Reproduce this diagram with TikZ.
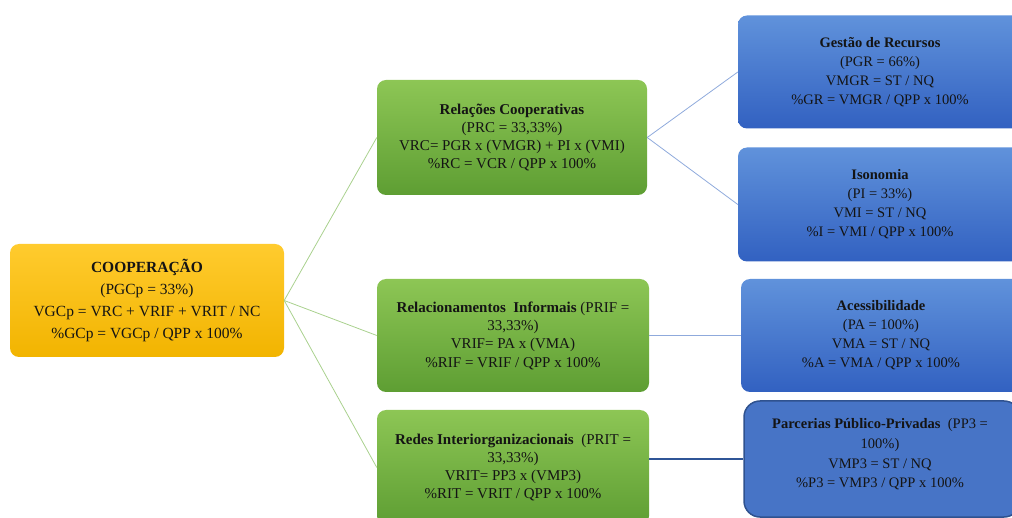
\documentclass[tikz,border=0pt]{standalone}
\usepackage{fontspec}
\setmainfont{Liberation Serif}
\definecolor{yTop}{HTML}{FFCB2E}
\definecolor{yBot}{HTML}{F2B400}
\definecolor{gTop}{HTML}{8DC655}
\definecolor{gBot}{HTML}{5E9E33}
\definecolor{bTop}{HTML}{6092DB}
\definecolor{bBot}{HTML}{3261C1}
\definecolor{pFill}{HTML}{4774C6}
\definecolor{pBorder}{HTML}{2F528F}
\definecolor{gLine}{HTML}{A9D18E}
\definecolor{bLine}{HTML}{8FAADC}
\definecolor{dLine}{HTML}{2F5597}
\definecolor{txt}{HTML}{141414}
\begin{document}
\begin{tikzpicture}[x=1pt,y=-1pt,
  box/.style={rounded corners=9pt, align=center, text=txt, inner sep=0pt},
  ybox/.style={box, top color=yTop, bottom color=yBot, font=\fontsize{15.5}{22}\selectfont},
  gbox/.style={box, top color=gTop, bottom color=gBot, font=\fontsize{15}{18.3}\selectfont},
  bbox/.style={box, top color=bTop, bottom color=bBot, font=\fontsize{14.5}{19}\selectfont},
  pbox/.style={box, rounded corners=16pt, fill=pFill, draw=pBorder, line width=1.5pt},
  ptext/.style={align=center, text=txt, inner sep=0pt, font=\fontsize{14.5}{19.6}\selectfont},
  gline/.style={draw=gLine, line width=0.8pt},
  bline/.style={draw=bLine, line width=0.8pt},
  dline/.style={draw=dLine, line width=1.2pt},
]
\useasboundingbox (0,0) rectangle (1012,518);
\clip (0,0) rectangle (1012,518);

\node[ybox, minimum width=274pt, minimum height=113pt] (coop) at (147,300.5)
  {\textbf{COOPERAÇÃO}\\(PGCp = 33\%)\\VGCp = VRC + VRIF + VRIT / NC\\\%GCp = VGCp / QPP x 100\%};

\node[gbox, minimum width=270pt, minimum height=115pt] (rc) at (512,137.5)
  {\textbf{Relações Cooperativas}\\(PRC = 33,33\%)\\VRC= PGR x (VMGR) + PI x (VMI)\\\%RC = VCR / QPP x 100\%};
\node[gbox, minimum width=272pt, minimum height=113pt] (rif) at (513,335.5)
  {\textbf{Relacionamentos\ \ Informais} (PRIF =\\33,33\%)\\VRIF= PA x (VMA)\\\%RIF = VRIF / QPP x 100\%};
\node[gbox, minimum width=272pt, minimum height=115pt] (rit) at (513,467.5)
  {\textbf{Redes Interiorganizacionais}\ \ (PRIT =\\33,33\%)\\VRIT= PP3 x (VMP3)\\\%RIT = VRIT / QPP x 100\%};

\node[bbox, minimum width=284pt, minimum height=113pt] (gr) at (880,72)
  {\textbf{Gestão de Recursos}\\(PGR = 66\%)\\VMGR = ST / NQ\\\%GR = VMGR / QPP x 100\%};
\node[bbox, minimum width=284pt, minimum height=114pt] (iso) at (880,204.5)
  {\textbf{Isonomia}\\(PI = 33\%)\\VMI = ST / NQ\\\%I = VMI / QPP x 100\%};
\node[bbox, minimum width=280pt, minimum height=113pt] (acc) at (881,335.5)
  {\textbf{Acessibilidade}\\(PA = 100\%)\\VMA = ST / NQ\\\%A = VMA / QPP x 100\%};
\node[pbox, minimum width=276pt, minimum height=116pt] (pp) at (882,459) {};
\node[ptext] (pptext) at (880,454.5)
  {\textbf{Parcerias Público-Privadas}\ \ (PP3 =\\100\%)\\VMP3 = ST / NQ\\\%P3 = VMP3 / QPP x 100\%};

\draw[gline] (coop.east) -- (rc.west);
\draw[gline] (coop.east) -- (rif.west);
\draw[gline] (coop.east) -- (rit.west);
\draw[bline] (rc.east) -- (gr.west);
\draw[bline] (rc.east) -- (iso.west);
\draw[bline] (rif.east) -- (acc.west);
\draw[dline] (pp.west -| rit.east) -- (pp.west);
\end{tikzpicture}
\end{document}
